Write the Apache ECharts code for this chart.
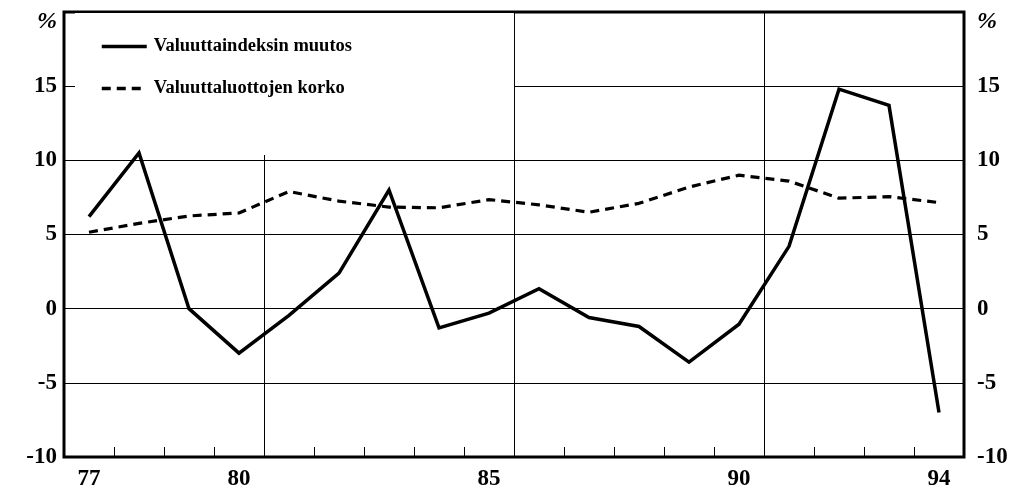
<!DOCTYPE html>
<html>
<head>
<meta charset="utf-8">
<script src="https://cdn.jsdelivr.net/npm/echarts@6/dist/echarts.min.js"></script>
<style>
html,body{margin:0;padding:0;background:#fff;}
#chart{width:1026px;height:498px;}
</style>
</head>
<body>
<div id="chart"></div>
<script>
const years = ['77','78','79','80','81','82','83','84','85','86','87','88','89','90','91','92','93','94'];
const shownYearLabels = ['77','80','85','90','94'];
const indexChange = [6.2,10.5,0.0,-3.0,-0.45,2.4,8.0,-1.3,-0.3,1.35,-0.6,-1.2,-3.6,-1.05,4.2,14.8,13.7,-7.0];
const loanRate = [5.15,5.75,6.25,6.45,7.9,7.25,6.85,6.8,7.35,7.0,6.5,7.1,8.2,9.0,8.6,7.45,7.55,7.15];
const seriesNames = ['Valuuttaindeksin muutos','Valuuttaluottojen korko'];
const unitLabel = '%';

const font = 'Liberation Serif';
const chart = echarts.init(document.getElementById('chart'), null, {renderer:'canvas'});

function yLabel(v){ return v === 20 ? '{p|' + unitLabel + '}' : String(v); }
const labelRich = {p:{fontFamily:font,fontWeight:'bold',fontStyle:'italic',fontSize:24,color:'#000',padding:[20,0,0,0]}};

chart.setOption({
  animation:false,
  backgroundColor:'#fff',
  color:['#000','#000'],
  grid:{left:64,right:62,top:12,bottom:41,show:true,borderColor:'#000',borderWidth:3,backgroundColor:'transparent'},
  legend:{
    left:75, top:13, orient:'vertical',
    backgroundColor:'#fff',
    padding:[24,162,57,25],
    itemGap:23, itemWidth:45, itemHeight:20,
    itemStyle:{opacity:0},
    lineStyle:{width:3.5},
    textStyle:{fontFamily:font,fontWeight:'bold',fontSize:18.5,color:'#000',padding:[0,0,0,2]},
    data:seriesNames
  },
  xAxis:{
    type:'category', data:years, boundaryGap:true,
    axisLine:{show:false,onZero:false},
    axisTick:{show:true,inside:true,length:10,interval:0,lineStyle:{color:'#000',width:1}},
    axisLabel:{interval:function(i,v){return shownYearLabels.indexOf(v)>=0;},fontFamily:font,fontWeight:'bold',fontSize:23,color:'#000',margin:11},
    splitLine:{show:true,interval:function(i){return i%5===4;},lineStyle:{color:'#000',width:1}}
  },
  yAxis:[
    {type:'value',min:-10,max:20,interval:5,position:'left',
     axisLine:{show:false},axisTick:{show:false},
     axisLabel:{formatter:yLabel,rich:labelRich,fontFamily:font,fontWeight:'bold',fontSize:23,color:'#000',margin:7},
     splitLine:{show:true,lineStyle:{color:'#000',width:1}}},
    {type:'value',min:-10,max:20,interval:5,position:'right',
     axisLine:{show:false},axisTick:{show:false},
     axisLabel:{formatter:yLabel,rich:labelRich,fontFamily:font,fontWeight:'bold',fontSize:23,color:'#000',margin:13},
     splitLine:{show:false}}
  ],
  series:[
    {name:seriesNames[0],type:'line',data:indexChange,symbol:'none',z:6,
     lineStyle:{color:'#000',width:3.5,type:'solid',cap:'butt',join:'miter'}},
    {name:seriesNames[1],type:'line',data:loanRate,symbol:'none',z:6,
     lineStyle:{color:'#000',width:3.2,type:[9,6],cap:'butt'}}
  ]
});
</script>
</body>
</html>
